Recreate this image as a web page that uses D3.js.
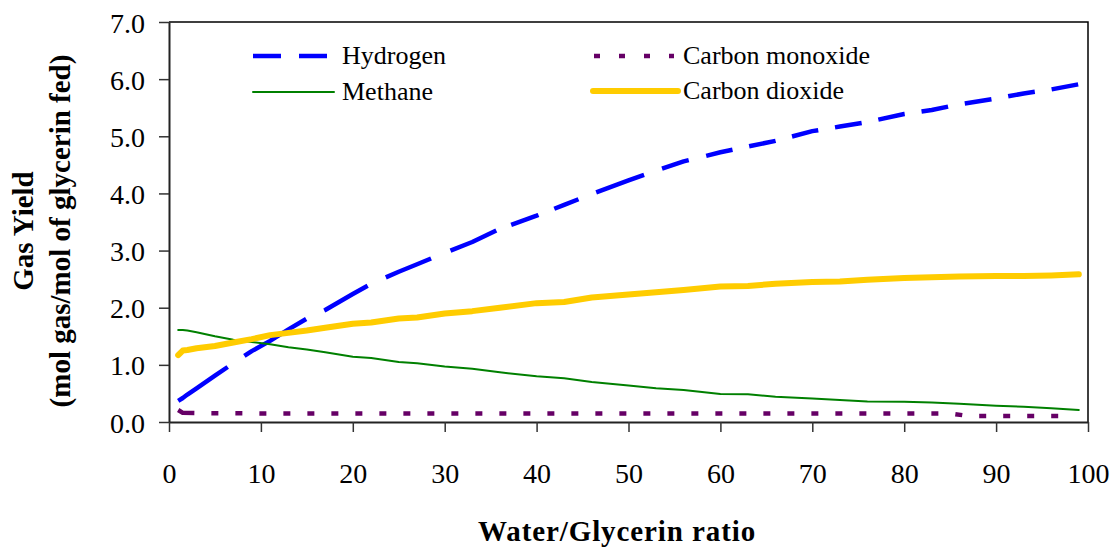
<!DOCTYPE html>
<html>
<head>
<meta charset="utf-8">
<script src="https://cdn.jsdelivr.net/npm/d3@7"></script>
<style>
  html, body { margin: 0; padding: 0; background: #fff; }
  svg { display: block; }
  svg text { font-family: "Liberation Serif", "DejaVu Serif", serif !important; fill: #000; }
</style>
</head>
<body>
<svg id="chart" width="1115" height="550"></svg>
<script>
// Water/glycerin ratio (x) shared by hydrogen, methane and carbon dioxide
const ratio = [1, 1.5, 2, 3, 5, 7, 9, 11, 13, 15, 17, 20, 22, 25, 27, 30, 33, 36, 40, 43, 46, 50, 53, 56, 60, 63, 66, 70, 73, 76, 80, 83, 86, 90, 93, 96, 99];

// Gas yields, mol gas / mol glycerin fed
const hydrogen = [0.37, 0.42, 0.48, 0.59, 0.81, 1.03, 1.24, 1.42, 1.62, 1.81, 1.96, 2.24, 2.42, 2.63, 2.76, 2.96, 3.15, 3.38, 3.61, 3.80, 3.99, 4.23, 4.40, 4.56, 4.72, 4.82, 4.92, 5.09, 5.17, 5.25, 5.39, 5.46, 5.56, 5.66, 5.75, 5.82, 5.91];
const methane = [1.61, 1.61, 1.60, 1.57, 1.50, 1.44, 1.40, 1.36, 1.31, 1.27, 1.22, 1.14, 1.12, 1.05, 1.03, 0.97, 0.93, 0.87, 0.80, 0.765, 0.70, 0.64, 0.59, 0.56, 0.49, 0.485, 0.44, 0.41, 0.385, 0.36, 0.355, 0.34, 0.32, 0.285, 0.265, 0.24, 0.21];
const carbonDioxide = [1.17, 1.25, 1.26, 1.29, 1.33, 1.39, 1.45, 1.52, 1.56, 1.60, 1.65, 1.72, 1.74, 1.81, 1.83, 1.90, 1.94, 2.00, 2.08, 2.10, 2.18, 2.23, 2.27, 2.31, 2.37, 2.38, 2.42, 2.45, 2.46, 2.49, 2.52, 2.535, 2.545, 2.555, 2.555, 2.565, 2.585];

// Carbon monoxide has its own ratio grid (step near ratio 86)
const coRatio = [1, 1.5, 3, 10, 20, 40, 60, 85, 87, 98];
const carbonMonoxide = [0.21, 0.16, 0.155, 0.15, 0.15, 0.148, 0.148, 0.15, 0.105, 0.105];

const xTicks = [0, 10, 20, 30, 40, 50, 60, 70, 80, 90, 100];
const yTicks = [0, 1, 2, 3, 4, 5, 6, 7];

const seriesNames = ["Hydrogen", "Carbon monoxide", "Methane", "Carbon dioxide"];

const FONT = '"Liberation Serif", "DejaVu Serif", serif';

// Hydrogen dash sequence: long dashes on the steep start, short ones after
const h2Dash = [60, 20, 72, 20, 50, 20, 49, 21, 50, 16, 29, 17, 26, 19, 51, 19, 28, 18]
  .concat(d3.range(14).flatMap(() => [27, 17])).join(",");

const svg = d3.select("#chart");
const margin = { top: 22, right: 27, bottom: 128, left: 169 };
const W = 1115, H = 550;
const iw = W - margin.left - margin.right;
const ih = H - margin.top - margin.bottom;

const x = d3.scaleLinear().domain([0, 100]).range([margin.left, margin.left + iw]);
const y = d3.scaleLinear().domain([0, 7]).range([margin.top + ih, margin.top]);

// Plot frame: top and right borders
svg.append("path")
  .attr("d", `M${x(0)},${y(7)}H${x(100)}V${y(0)}`)
  .attr("fill", "none").attr("stroke", "#000").attr("stroke-width", 1.5);

// Axes
const yAxis = d3.axisLeft(y).tickValues(yTicks).tickSize(10).tickSizeOuter(0)
  .tickPadding(14).tickFormat(d3.format(".1f"));
const xAxis = d3.axisBottom(x).tickValues(xTicks).tickSize(10).tickSizeOuter(0)
  .tickFormat(d3.format("d"));

const gy = svg.append("g").attr("transform", `translate(${x(0)},0)`).call(yAxis);
const gx = svg.append("g").attr("transform", `translate(0,${y(0)})`).call(xAxis);

[gx, gy].forEach(g => {
  g.attr("font-family", FONT).attr("font-size", 28);
  g.selectAll(".domain").attr("stroke", "#222").attr("stroke-width", 2);
  g.selectAll(".tick line").attr("stroke", "#333").attr("stroke-width", 1.5);
  g.selectAll(".tick text").attr("fill", "#000");
});
gy.selectAll(".tick text").attr("dy", "0.36em");
gx.selectAll(".tick text").attr("y", 61).attr("dy", 0);

// Series lines
const pairs = (xs, ys) => xs.map((v, i) => [v, ys[i]]);
const line = d3.line().x(d => x(d[0])).y(d => y(d[1]));

const series = [
  { name: seriesNames[0], data: pairs(ratio, hydrogen), color: "#0000FF", width: 4.5, dash: h2Dash },
  { name: seriesNames[1], data: pairs(coRatio, carbonMonoxide), color: "#660066", width: 4.5, dash: "17,17,7,17" },
  { name: seriesNames[2], data: pairs(ratio, methane), color: "#008000", width: 2, dash: null },
  { name: seriesNames[3], data: pairs(ratio, carbonDioxide), color: "#FFCC00", width: 6, dash: null }
];

svg.append("g").selectAll("path").data(series).join("path")
  .attr("d", d => line(d.data))
  .attr("fill", "none")
  .attr("stroke", d => d.color)
  .attr("stroke-width", d => d.width)
  .attr("stroke-linejoin", "round")
  .attr("stroke-linecap", d => d.dash ? "butt" : "round")
  .attr("stroke-dasharray", (d, i) => i === 1 ? "17,17" + ",7,17".repeat(40) : d.dash);

// Legend: two rows, two columns
const legendItems = [
  { s: series[0], x0: 253, x1: 327, tx: 342, y: 56, dash: "28,18" },
  { s: series[1], x0: 594, x1: 674, tx: 683, y: 56, dash: "6,19" },
  { s: series[2], x0: 253, x1: 334, tx: 342, y: 92, dash: null },
  { s: series[3], x0: 593, x1: 678, tx: 683, y: 91, dash: null }
];
const lg = svg.append("g").attr("font-family", FONT);
legendItems.forEach(it => {
  lg.append("line")
    .attr("x1", it.x0).attr("x2", it.x1).attr("y1", it.y).attr("y2", it.y)
    .attr("stroke", it.s.color).attr("stroke-width", it.s.width)
    .attr("stroke-linecap", it.dash ? "butt" : "round")
    .attr("stroke-dasharray", it.dash);
  lg.append("text")
    .attr("x", it.tx).attr("y", it.y + 8)
    .attr("font-size", 26)
    .text(it.s.name);
});

// Axis titles
const titles = svg.append("g").attr("font-family", FONT)
  .attr("font-size", 29).attr("font-weight", "bold");
titles.append("text")
  .attr("x", 617).attr("y", 541)
  .attr("text-anchor", "middle")
  .attr("letter-spacing", 0.9)
  .text("Water/Glycerin ratio");

const yt = titles.append("g").attr("transform", "translate(0,231) rotate(-90)");
yt.append("text").attr("x", 0).attr("y", 33)
  .attr("text-anchor", "middle")
  .text("Gas Yield");
yt.append("text").attr("x", 0).attr("y", 70)
  .attr("text-anchor", "middle")
  .text("(mol gas/mol of glycerin fed)");
</script>
</body>
</html>
